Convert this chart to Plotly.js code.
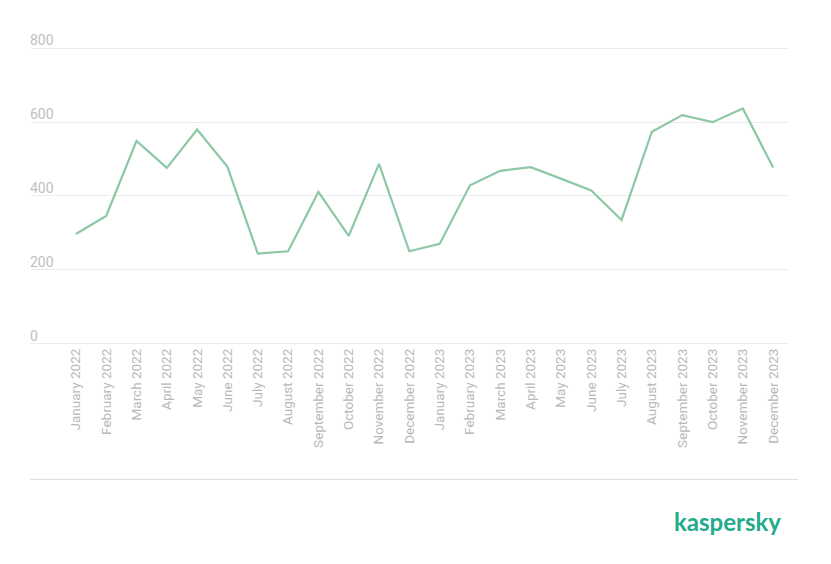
<!DOCTYPE html>
<html>
<head>
<meta charset="utf-8">
<script src="https://cdn.plot.ly/plotly-3.0.1.min.js"></script>
<style>html,body{margin:0;padding:0;background:#fff;}#chart{width:831px;height:564px;}</style>
</head>
<body>
<div id="chart"></div>
<script>
const months = ["January 2022","February 2022","March 2022","April 2022","May 2022","June 2022","July 2022","August 2022","September 2022","October 2022","November 2022","December 2022","January 2023","February 2023","March 2023","April 2023","May 2023","June 2023","July 2023","August 2023","September 2023","October 2023","November 2023","December 2023"];
const values = [297,346,549,476,580,479,244,250,411,292,487,250,270,429,468,478,447,415,335,574,619,600,637,477];
const yTicks = [0,200,400,600,800];

const trace = {
  type: 'scatter', mode: 'lines', x: months, y: values,
  line: {color: '#8cc8a5', width: 2.2}, hoverinfo: 'x+y'
};
const layout = {
  width: 831, height: 564,
  margin: {l: 31, r: 43, t: 41, b: 219},
  paper_bgcolor: '#fff', plot_bgcolor: '#fff',
  showlegend: false,
  font: {family: 'Roboto, Arial, sans-serif', color: '#c4c4c4'},
  xaxis: {
    type: 'category', range: [-1.48, 23.49],
    showgrid: false, zeroline: false, showline: false,
    tickangle: -90, ticks: '', tickfont: {size: 13.5, color: '#b8b8b8'},
    automargin: false
  },
  yaxis: {
    range: [-4, 820], tickvals: yTicks, ticktext: yTicks.map(String),
    showgrid: true, gridcolor: '#ececec', gridwidth: 1,
    zeroline: false, showline: false, ticks: '',
    ticklabelposition: 'inside top', ticklabeloverflow: 'allow',
    ticklabelstandoff: -4, ticklabelshift: 2,
    tickfont: {size: 14, color: '#c0c0c0'},
    automargin: false
  },
  shapes: [
    {type: 'line', xref: 'paper', yref: 'paper', x0: -0.001, x1: 1.013, y0: -0.442, y1: -0.442,
     line: {color: '#dcdcdc', width: 1}}
  ],
  annotations: [
    {text: 'kaspersky', xref: 'paper', yref: 'paper', x: 0.994, y: -0.579, xanchor: 'right', yanchor: 'middle',
     showarrow: false, font: {family: 'Lato, "Open Sans", sans-serif', size: 24, color: '#22ab8c', weight: 'bold'}}
  ]
};
Plotly.newPlot('chart', [trace], layout, {displayModeBar: false, staticPlot: true});
</script>
</body>
</html>
